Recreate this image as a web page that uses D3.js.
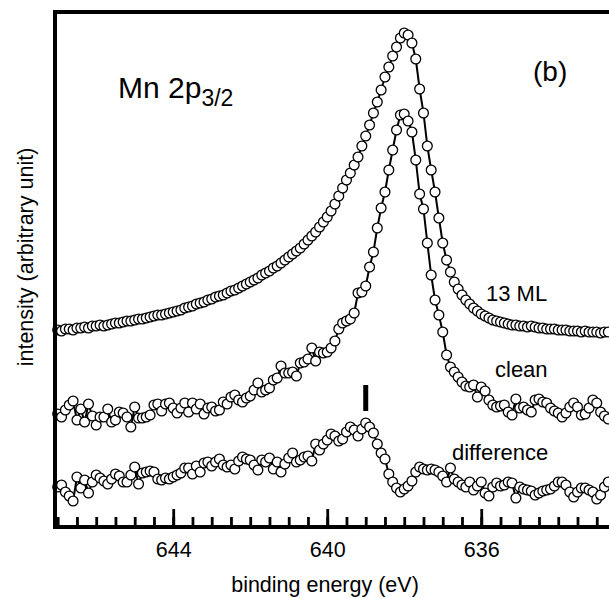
<!DOCTYPE html>
<html>
<head>
<meta charset="utf-8">
<script src="https://cdn.jsdelivr.net/npm/d3@7"></script>
<style>
    body { margin: 0; background: #fff; }
    svg { display: block; font-family: "Liberation Sans", Arial, Helvetica, sans-serif; }
</style>
</head>
<body>
<div id="chart"></div>
<script>
// binding energy grid of the scan (eV)
let energy = [
    647.0, 646.9, 646.8, 646.7, 646.6, 646.5, 646.4, 646.3, 646.2, 646.1,
    646.0, 645.9, 645.8, 645.7, 645.6, 645.5, 645.4, 645.3, 645.2, 645.1,
    645.0, 644.9, 644.8, 644.7, 644.6, 644.5, 644.4, 644.3, 644.2, 644.1,
    644.0, 643.9, 643.8, 643.7, 643.6, 643.5, 643.4, 643.3, 643.2, 643.1,
    643.0, 642.9, 642.8, 642.7, 642.6, 642.5, 642.4, 642.3, 642.2, 642.1,
    642.0, 641.9, 641.8, 641.7, 641.6, 641.5, 641.4, 641.3, 641.2, 641.1,
    641.0, 640.9, 640.8, 640.7, 640.6, 640.5, 640.4, 640.3, 640.2, 640.1,
    640.0, 639.9, 639.8, 639.7, 639.6, 639.5, 639.4, 639.3, 639.2, 639.1,
    639.0, 638.9, 638.8, 638.7, 638.6, 638.5, 638.4, 638.3, 638.2, 638.1,
    638.0, 637.9, 637.8, 637.7, 637.6, 637.5, 637.4, 637.3, 637.2, 637.1,
    637.0, 636.9, 636.8, 636.7, 636.6, 636.5, 636.4, 636.3, 636.2, 636.1,
    636.0, 635.9, 635.8, 635.7, 635.6, 635.5, 635.4, 635.3, 635.2, 635.1,
    635.0, 634.9, 634.8, 634.7, 634.6, 634.5, 634.4, 634.3, 634.2, 634.1,
    634.0, 633.9, 633.8, 633.7, 633.6, 633.5, 633.4, 633.3, 633.2, 633.1,
    633.0, 632.9, 632.8, 632.7
]

// intensities (arbitrary units, spectra already offset)
let ml13 = [
    197, 196, 198, 198, 197, 199, 199, 200, 199, 201,
    201, 202, 201, 202, 203, 204, 204, 205, 206, 206,
    207, 208, 208, 209, 210, 211, 212, 212, 213, 214,
    215, 216, 217, 219, 220, 221, 223, 224, 225, 227,
    228, 230, 231, 232, 234, 236, 237, 239, 241, 243,
    245, 247, 249, 252, 254, 256, 259, 261, 264, 267,
    270, 273, 276, 279, 283, 287, 291, 295, 300, 305,
    310, 316, 323, 331, 339, 347, 354, 362, 370, 381,
    391, 402, 414, 425, 437, 450, 460, 471, 480, 489,
    494, 492, 484, 468, 438, 414, 381, 357, 335, 309,
    284, 267, 255, 245, 238, 232, 227, 223, 219, 216,
    213, 211, 209, 207, 206, 205, 204, 203, 202, 202,
    201, 201, 200, 201, 200, 199, 199, 198, 198, 198,
    197, 197, 197, 196, 196, 196, 195, 196, 195, 195,
    195, 194, 195, 195
]

let clean = [
    113, 110, 117, 122, 126, 107, 118, 105, 123, 111,
    102, 110, 110, 118, 105, 107, 115, 114, 110, 100,
    120, 109, 109, 110, 112, 122, 123, 116, 123, 124,
    119, 114, 119, 124, 115, 124, 118, 123, 113, 119,
    120, 116, 117, 125, 123, 130, 132, 127, 125, 129,
    131, 137, 144, 135, 137, 139, 147, 149, 161, 154,
    154, 155, 151, 164, 165, 168, 179, 166, 175, 174,
    175, 179, 186, 198, 204, 206, 208, 214, 234, 235,
    241, 260, 275, 299, 319, 335, 357, 377, 397, 412,
    413, 406, 395, 367, 333, 318, 284, 252, 227, 212,
    195, 172, 160, 155, 150, 145, 141, 140, 142, 130,
    140, 136, 127, 122, 120, 121, 122, 115, 112, 128,
    119, 120, 117, 115, 127, 128, 125, 124, 119, 116,
    114, 110, 114, 120, 124, 120, 112, 113, 119, 127,
    124, 115, 111, 108
]

let difference = [
    40, 42, 35, 31, 26, 50, 39, 47, 34, 45,
    52, 49, 46, 43, 48, 53, 51, 45, 45, 52,
    60, 43, 54, 55, 56, 55, 48, 47, 49, 48,
    50, 52, 54, 59, 59, 53, 61, 55, 64, 65,
    61, 65, 68, 62, 60, 62, 58, 66, 70, 68,
    67, 62, 57, 67, 65, 69, 58, 65, 55, 63,
    69, 74, 65, 67, 70, 71, 66, 83, 77, 83,
    87, 93, 91, 86, 88, 95, 100, 97, 91, 98,
    104, 100, 94, 83, 74, 68, 53, 45, 39, 35,
    38, 41, 46, 55, 60, 58, 57, 58, 57, 55,
    51, 45, 59, 48, 45, 42, 40, 45, 37, 41,
    45, 34, 31, 40, 44, 41, 42, 45, 44, 29,
    40, 38, 37, 36, 32, 34, 36, 37, 38, 41,
    45, 45, 42, 35, 30, 35, 39, 39, 37, 35,
    28, 32, 40, 45
]

let xTicksMajor = [644, 640, 636]
let seriesNames = ["13 ML", "clean", "difference"]
let markEnergy = 639.0
let markSpan = [116, 142]

let margin = {top: 12, left: 55}
let width = 561
let height = 515

let svg = d3.select("#chart")
    .append("svg")
    .attr("width", 609)
    .attr("height", 598)

svg.append("rect").attr("width", 609).attr("height", 598).attr("fill", "#fff")

let g = svg.append("g")
    .attr("transform", "translate(" + margin.left + "," + margin.top + ")")

let x = d3.scaleLinear().domain([647.07, 632.5]).range([0, width])
let y = d3.scaleLinear().domain([0, 515]).range([height, 0])

// spectra: thin connecting line + open circles
let line = d3.line()
    .x(function (d) { return x(d.e) })
    .y(function (d) { return y(d.v) })

;[ml13, clean, difference].forEach(function (vals) {
    let pts = energy.map(function (e, i) { return {e: e, v: vals[i]} })
    g.append("path")
        .datum(pts)
        .attr("d", line)
        .attr("fill", "none")
        .attr("stroke", "#000")
        .attr("stroke-width", 2)
    g.append("g").selectAll("circle")
        .data(pts)
        .enter()
        .append("circle")
        .attr("cx", function (d) { return x(d.e) })
        .attr("cy", function (d) { return y(d.v) })
        .attr("r", 4.9)
        .attr("fill", "#fff")
        .attr("stroke", "#000")
        .attr("stroke-width", 1.3)
})

// vertical marker above the difference bump
g.append("rect")
    .attr("x", x(markEnergy) - 2.5)
    .attr("y", y(markSpan[1]))
    .attr("width", 5)
    .attr("height", y(markSpan[0]) - y(markSpan[1]))
    .attr("fill", "#000")

// frame
g.append("rect")
    .attr("width", width)
    .attr("height", height)
    .attr("fill", "none")
    .attr("stroke", "#000")
    .attr("stroke-width", 4)

// minor ticks every 0.5 eV (inward)
let minorAxis = g.append("g")
    .attr("transform", "translate(0," + height + ")")
    .call(d3.axisBottom(x).ticks(28).tickSize(-10).tickFormat(""))
minorAxis.select(".domain").remove()
minorAxis.selectAll("line").attr("stroke-width", 2.8)

// major ticks + labels
let majorAxis = g.append("g")
    .attr("transform", "translate(0," + height + ")")
    .call(d3.axisBottom(x).tickValues(xTicksMajor).tickSize(-18).tickPadding(15).tickFormat(d3.format("d")))
majorAxis.select(".domain").remove()
majorAxis.selectAll("line").attr("stroke-width", 2.8)
majorAxis.selectAll("text")
    .attr("font-family", "Liberation Sans, Arial, sans-serif")
    .attr("font-size", 21.5)
    .attr("fill", "#000")

// axis titles
svg.append("text")
    .attr("x", 325)
    .attr("y", 592)
    .attr("text-anchor", "middle")
    .attr("font-size", 21.5)
    .text("binding energy (eV)")

svg.append("text")
    .attr("transform", "translate(33,257) rotate(-90)")
    .attr("text-anchor", "middle")
    .attr("font-size", 21.5)
    .text("intensity (arbitrary unit)")

// panel annotations
let title = svg.append("text")
    .attr("x", 118)
    .attr("y", 98)
    .attr("font-size", 30)
title.append("tspan").text("Mn 2p")
title.append("tspan").attr("font-size", 23).attr("dy", 8).text("3/2")

svg.append("text")
    .attr("x", 533)
    .attr("y", 81)
    .attr("font-size", 28)
    .text("(b)")

let labelPos = [[486, 301], [495, 377], [452, 460]]
svg.selectAll(".serieslabel")
    .data(seriesNames)
    .enter()
    .append("text")
    .attr("class", "serieslabel")
    .attr("x", function (d, i) { return labelPos[i][0] })
    .attr("y", function (d, i) { return labelPos[i][1] })
    .attr("font-size", 22)
    .text(function (d) { return d })
</script>
</body>
</html>
